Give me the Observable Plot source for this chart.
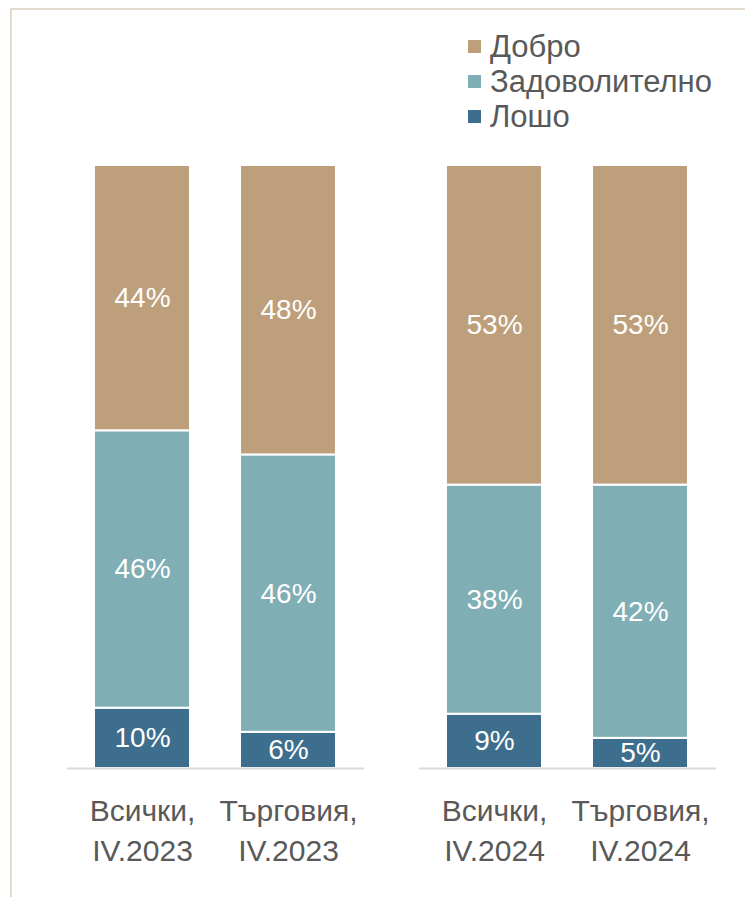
<!DOCTYPE html>
<html>
<head>
<meta charset="utf-8">
<script src="https://cdn.jsdelivr.net/npm/d3@7"></script>
<script src="https://cdn.jsdelivr.net/npm/@observablehq/plot@0.6"></script>
<style>
  html, body { margin: 0; padding: 0; background: #fff; }
  #wrap { position: relative; width: 745px; height: 897px; overflow: hidden; font-family: "Liberation Sans", Arial, sans-serif; }
  #frame { position: absolute; left: 10px; top: 8px; width: 800px; height: 950px; border-left: 2px solid #e2dacb; border-top: 2px solid #e2dacb; }
  #legend { position: absolute; left: 468px; top: 29px; }
  .row { display: flex; align-items: center; height: 35px; font-size: 31px; color: #595959; }
  .sw { width: 13px; height: 13px; margin-right: 9px; }
  #chart { position: absolute; left: 0; top: 0; }
</style>
</head>
<body>
<div id="wrap">
  <div id="frame"></div>
  <div id="chart"></div>
  <div id="legend"></div>
</div>
<script>
const groups = ["IV.2023", "IV.2023", "IV.2024", "IV.2024"];
const categories = ["Всички", "Търговия", "Всички", "Търговия"];
const series = ["Лошо", "Задоволително", "Добро"];
const losho = [10, 6, 9, 5];
const zadovolitelno = [46, 46, 38, 42];
const dobro = [44, 48, 53, 53];
const colors = ["#3e6e8e", "#7faeb5", "#bd9f7c"];
const legendOrder = ["Добро", "Задоволително", "Лошо"];

const valuesBySeries = [losho, zadovolitelno, dobro];
const rows = [];
series.forEach((s, si) => {
  groups.forEach((g, i) => {
    rows.push({group: g, category: categories[i], series: s, value: valuesBySeries[si][i]});
  });
});
const labels = groups.map((g, i) => ({group: g, category: categories[i], text: categories[i] + ",\n" + g}));

const chart = Plot.plot({
  width: 745,
  height: 897,
  marginTop: 165,
  marginBottom: 129,
  marginLeft: 70,
  marginRight: 31,
  style: {fontFamily: "'Liberation Sans', Arial, sans-serif", background: "transparent"},
  fx: {domain: ["IV.2023", "IV.2024"], paddingInner: 0.172, paddingOuter: 0, axis: null, label: null},
  x: {domain: ["Всички", "Търговия"], paddingInner: 0.34, paddingOuter: 0.16, axis: null, label: null},
  y: {domain: [0, 100], axis: null},
  color: {domain: series, range: colors},
  marks: [
    Plot.barY(rows, Plot.stackY({x: "category", fx: "group", y: "value", z: "series", fill: "series", stroke: "white", strokeWidth: 2})),
    Plot.text(rows, Plot.stackY({x: "category", fx: "group", y: "value", z: "series", text: d => d.value + "%", fill: "white", fontSize: 28})),
    Plot.ruleY([0], {stroke: "#d9d9d9", strokeWidth: 2, insetLeft: -3, insetRight: -3}),
    Plot.text(labels, {x: "category", fx: "group", frameAnchor: "bottom", text: "text", dy: 60, lineAnchor: "middle", lineHeight: 1.33, fontSize: 30, fill: "#595959"})
  ]
});
document.getElementById("chart").appendChild(chart);

const legend = document.getElementById("legend");
legendOrder.forEach(s => {
  const row = document.createElement("div");
  row.className = "row";
  const sw = document.createElement("span");
  sw.className = "sw";
  sw.style.background = colors[series.indexOf(s)];
  const t = document.createElement("span");
  t.textContent = s;
  row.appendChild(sw);
  row.appendChild(t);
  legend.appendChild(row);
});
</script>
</body>
</html>
